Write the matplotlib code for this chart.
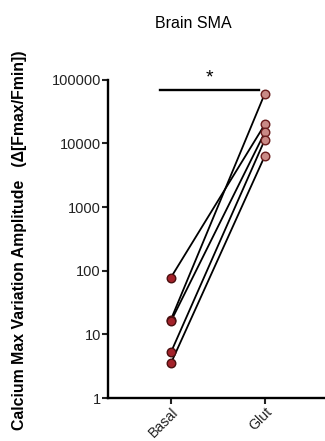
import matplotlib
matplotlib.use('Agg')
import matplotlib.pyplot as plt
import numpy as np

matplotlib.rcParams['font.family'] = ['Liberation Sans', 'DejaVu Sans']

groups = ['Basal', 'Glut']
basal = [78, 17, 16, 5.2, 3.5]
glut = [20000, 61000, 15000, 11500, 6400]
yticks = [1, 10, 100, 1000, 10000, 100000]
yticklabels = ['1', '10', '100', '1000', '10000', '100000']

fig = plt.figure(figsize=(3.25, 4.41), dpi=100)
ax = fig.add_axes([0.332, 0.0975, 0.668, 0.7214])

x = np.arange(len(groups))
for b, g in zip(basal, glut):
    ax.plot(x, [b, g], color='black', lw=1.3, zorder=2)
ax.scatter(np.zeros(len(basal)), basal, s=38, facecolor='#a3222a', edgecolor='#4a1010', lw=1.0, zorder=3)
ax.scatter(np.ones(len(glut)), glut, s=38, facecolor='#c98a86', edgecolor='#6a1c1c', lw=1.0, zorder=3)

ax.set_yscale('log')
ax.set_ylim(1, 100000)
ax.set_xlim(-0.67, 1.64)
ax.set_yticks(yticks)
ax.set_yticklabels(yticklabels)
ax.minorticks_off()
ax.set_xticks(x)
ax.set_xticklabels(groups, rotation=45, ha='right', rotation_mode='anchor')

for s in ['top', 'right']:
    ax.spines[s].set_visible(False)
for s in ['left', 'bottom']:
    ax.spines[s].set_linewidth(1.7)
ax.tick_params(axis='both', width=1.5, length=4, labelsize=10.5, pad=1, colors='#222222')
ax.tick_params(axis='x', labelsize=10.2, pad=1)

# significance bar
ax.plot([-0.12, 0.94], [70000, 70000], color='black', lw=1.7, clip_on=False)
ax.text(0.41, 80000, '*', ha='center', va='bottom', fontsize=14)

fig.text(0.594, 0.947, 'Brain SMA', ha='center', va='center', fontsize=11.5)
fig.text(20/325, 1-240/441, 'Calcium Max Variation Amplitude   (\u0394[Fmax/Fmin])',
         rotation=90, ha='center', va='center', fontsize=11.4, fontweight='bold')

fig.savefig('out.png', dpi=100)
